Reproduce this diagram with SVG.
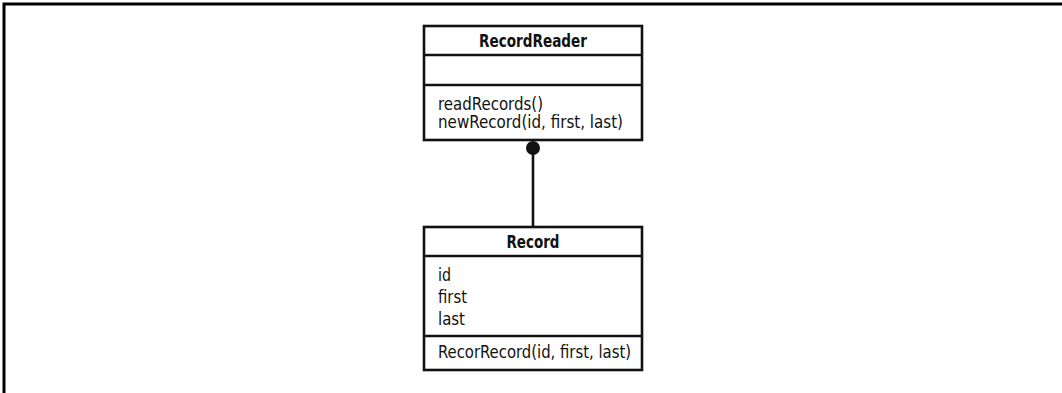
<svg xmlns="http://www.w3.org/2000/svg" width="1062" height="393" viewBox="0 0 1062 393">
  <style>
    .box { fill: #ffffff; stroke: #111111; stroke-width: 2.6; }
    .sep { stroke: #111111; stroke-width: 2.6; }
    .frame { fill: none; stroke: #000000; stroke-width: 3; }
    .link { stroke: #111111; stroke-width: 2.6; fill: none; }
    .title { font-family: "Liberation Sans Narrow", "DejaVu Sans Condensed", "Liberation Sans", sans-serif; font-weight: bold; font-size: 18px; fill: #111111; text-anchor: middle; }
    .member { font-family: "Liberation Sans Narrow", "DejaVu Sans Condensed", "Liberation Sans", sans-serif; font-size: 18px; fill: #111111; }
  </style>

  <!-- page frame -->
  <path class="frame" d="M4,393 V4 H1062"/>

  <!-- composition link -->
  <g id="connectors">
    <line class="link" x1="533" y1="148" x2="533" y2="227"/>
    <circle cx="533" cy="148" r="7" fill="#111111"/>
  </g>

  <g id="RecordReader">
    <rect class="box" x="424" y="26" width="218" height="114"/>
    <line class="sep" x1="424" y1="55" x2="642" y2="55"/>
    <line class="sep" x1="424" y1="85" x2="642" y2="85"/>
    <text class="title" x="533" y="47" textLength="108" lengthAdjust="spacingAndGlyphs">RecordReader</text>
    <text class="member" x="438" y="110" textLength="105" lengthAdjust="spacingAndGlyphs">readRecords()</text>
    <text class="member" x="438" y="128" textLength="185" lengthAdjust="spacingAndGlyphs">newRecord(id, first, last)</text>
  </g>

  <g id="Record">
    <rect class="box" x="424" y="227" width="218" height="143"/>
    <line class="sep" x1="424" y1="256" x2="642" y2="256"/>
    <line class="sep" x1="424" y1="336" x2="642" y2="336"/>
    <text class="title" x="533" y="248" textLength="53" lengthAdjust="spacingAndGlyphs">Record</text>
    <text class="member" x="438" y="281" textLength="13" lengthAdjust="spacingAndGlyphs">id</text>
    <text class="member" x="438" y="303" textLength="29" lengthAdjust="spacingAndGlyphs">first</text>
    <text class="member" x="438" y="325" textLength="27" lengthAdjust="spacingAndGlyphs">last</text>
    <text class="member" x="438" y="358" textLength="193" lengthAdjust="spacingAndGlyphs">RecorRecord(id, first, last)</text>
  </g>
</svg>
